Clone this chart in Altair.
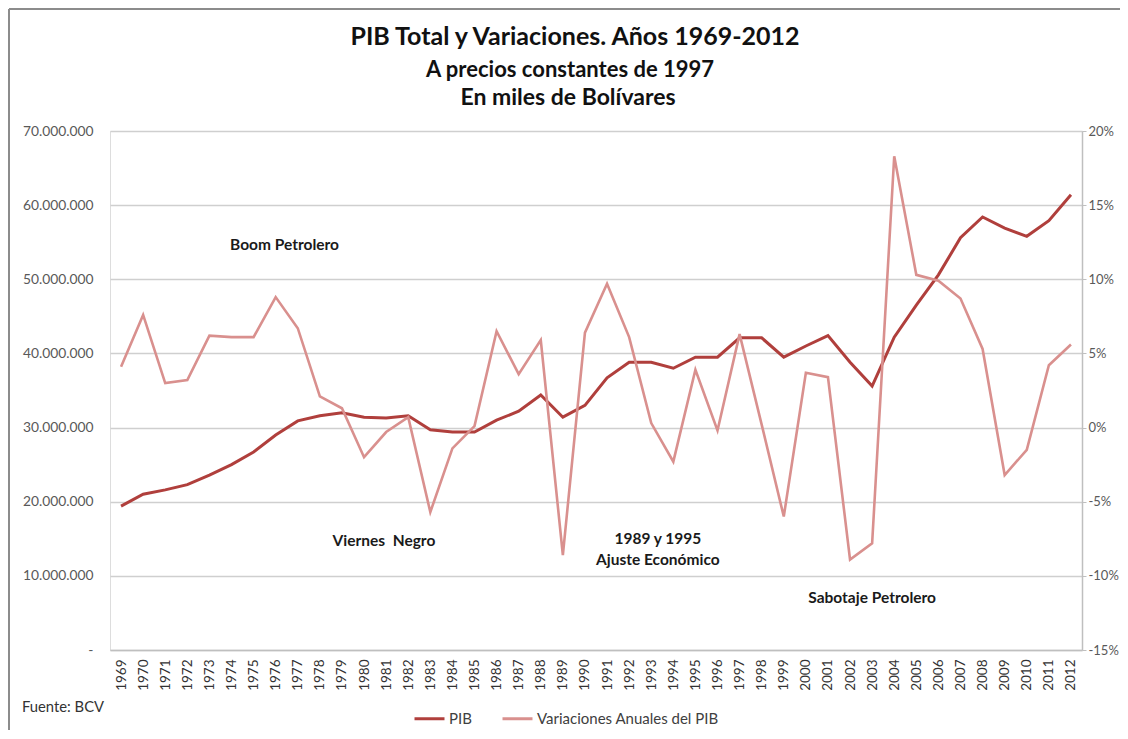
import altair as alt
import pandas as pd

years = list(range(1969, 2013))
pib_millones = [19.4, 21.0, 21.6, 22.3, 23.6, 25.0, 26.7, 29.0, 30.9, 31.6,
                32.0, 31.4, 31.3, 31.6, 29.7, 29.4, 29.4, 31.0, 32.2, 34.4,
                31.4, 33.0, 36.7, 38.8, 38.8, 38.0, 39.5, 39.5, 42.1, 42.1,
                39.5, 41.0, 42.4, 38.8, 35.6, 42.2, 46.5, 50.6, 55.6, 58.4,
                56.9, 55.8, 57.9, 61.4]
variaciones = [4.1, 7.6, 3.0, 3.2, 6.2, 6.1, 6.1, 8.8, 6.7, 2.1,
               1.3, -2.0, -0.3, 0.7, -5.7, -1.4, 0.1, 6.5, 3.6, 5.9,
               -8.6, 6.4, 9.7, 6.1, 0.3, -2.3, 3.9, -0.2, 6.3, 0.2,
               -6.0, 3.7, 3.4, -8.9, -7.8, 18.3, 10.3, 9.9, 8.7, 5.3,
               -3.2, -1.5, 4.2, 5.6]

series_names = ["PIB", "Variaciones Anuales del PIB"]
series_colors = ["#B03F3C", "#D9908E"]

left_ticks = [0, 10_000_000, 20_000_000, 30_000_000, 40_000_000, 50_000_000, 60_000_000, 70_000_000]
right_ticks = [-15, -10, -5, 0, 5, 10, 15, 20]

ann_labels = ["Boom Petrolero", "Viernes\u00a0\u00a0Negro", "1989 y 1995\nAjuste Económico", "Sabotaje Petrolero"]
ann_year = [1976.4, 1980.9, 1993.3, 2003.0]
ann_pib = [54_600_000, 14_700_000, 15_000_000, 7_000_000]

title_lines = ["PIB Total y Variaciones. Años 1969-2012", "A precios constantes de 1997", "En miles de Bolívares"]
source_text = "Fuente: BCV"

FONT = "Lato"

df = pd.DataFrame({
    "year": years,
    "pib": [v * 1_000_000 for v in pib_millones],
    "var": variaciones,
})
ann_df = pd.DataFrame({"label": ann_labels, "year": ann_year, "pib": ann_pib})

x_enc = alt.X(
    "year:Q",
    scale=alt.Scale(domain=[1968.5, 2012.5], nice=False, zero=False),
    axis=alt.Axis(
        values=years, format="d", labelAngle=-90, labelOverlap=False, labelFlush=False,
        labelSeparation=0, ticks=False, grid=False, domainColor="#BFBFBF", domainWidth=1.5,
        labelPadding=9, labelFontSize=13.5, labelColor="#333333", labelFont=FONT, title=None,
    ),
)

color_scale = alt.Scale(domain=series_names, range=series_colors)
legend = alt.Legend(
    title=None, orient="none", legendX=303, legendY=571, direction="horizontal",
    symbolType="stroke", symbolSize=900, symbolStrokeWidth=3, labelFontSize=15,
    labelFont=FONT, labelColor="#404040", labelOffset=3, columnPadding=24,
    labelLimit=400, padding=0,
)

pib_line = alt.Chart(df).transform_calculate(serie="'PIB'").mark_line(strokeWidth=3).encode(
    x=x_enc,
    y=alt.Y(
        "pib:Q",
        scale=alt.Scale(domain=[0, 70_000_000], nice=False),
        axis=alt.Axis(
            values=left_ticks, orient="left", title=None, domain=False, ticks=False,
            labelPadding=17, labelFontSize=13.8, labelFont=FONT, labelColor="#595959",
            gridColor="#CFCFCF", gridWidth=1.3,
            labelExpr="datum.value == 0 ? '-' : replace(format(datum.value, ',.0f'), regexp(',', 'g'), '.')",
        ),
    ),
    color=alt.Color("serie:N", scale=color_scale, legend=legend),
)

ann = alt.Chart(ann_df).mark_text(
    font=FONT, fontSize=15.5, fontWeight="bold", color="#1A1A1A",
    lineBreak="\n", lineHeight=21, baseline="middle", align="center",
).encode(x=x_enc, y="pib:Q", text="label:N")

left_layer = alt.layer(pib_line, ann)

var_line = alt.Chart(df).transform_calculate(serie="'Variaciones Anuales del PIB'").mark_line(strokeWidth=2.6).encode(
    x=x_enc,
    y=alt.Y(
        "var:Q",
        scale=alt.Scale(domain=[-15, 20], nice=False),
        axis=alt.Axis(
            values=right_ticks, orient="right", title=None, grid=False,
            domainColor="#BFBFBF", domainWidth=1.5, tickColor="#BFBFBF", tickSize=4,
            labelPadding=2, labelFontSize=13, labelFont=FONT, labelColor="#595959",
            labelExpr="datum.value + '%'",
        ),
    ),
    color=alt.Color("serie:N", scale=color_scale, legend=legend),
)

title_df = pd.DataFrame({"t": title_lines})
t1 = alt.Chart(title_df).transform_filter(alt.datum.t == title_lines[0]).mark_text(
    font=FONT, fontSize=25, fontWeight="bold", color="#111111", align="center", baseline="middle"
).encode(text="t:N", x=alt.value(465), y=alt.value(-94))
t2 = alt.Chart(title_df).transform_filter(alt.datum.t == title_lines[1]).mark_text(
    font=FONT, fontSize=22, fontWeight="bold", color="#111111", align="center", baseline="middle"
).encode(text="t:N", x=alt.value(460), y=alt.value(-61))
t3 = alt.Chart(title_df).transform_filter(alt.datum.t == title_lines[2]).mark_text(
    font=FONT, fontSize=23, fontWeight="bold", color="#111111", align="center", baseline="middle"
).encode(text="t:N", x=alt.value(458), y=alt.value(-33))

src = alt.Chart(pd.DataFrame({"t": [source_text]})).mark_text(
    font=FONT, fontSize=14.8, color="#333333", align="left", baseline="middle"
).encode(text="t:N", x=alt.value(-88), y=alt.value(577))

border_df = pd.DataFrame({"a": [0]})
border_left = alt.Chart(border_df).mark_rule(color="#8C8C8C", strokeWidth=2).encode(
    x=alt.value(-101), y=alt.value(-122), y2=alt.value(610))
border_top = alt.Chart(border_df).mark_rule(color="#8C8C8C", strokeWidth=2).encode(
    x=alt.value(-101), x2=alt.value(1010), y=alt.value(-122))

chart = alt.layer(
    left_layer, var_line, t1, t2, t3, src, border_left, border_top
).resolve_scale(y="independent").properties(
    width=972, height=519,
    padding={"left": 102, "top": 123, "right": 38, "bottom": 80},
    autosize=alt.AutoSizeParams(type="none"),
).configure_view(stroke=None).configure_axisX(labelOverlap=False).configure(background="white")

chart.save("out.html", embed_options={"renderer": "svg", "actions": False})
